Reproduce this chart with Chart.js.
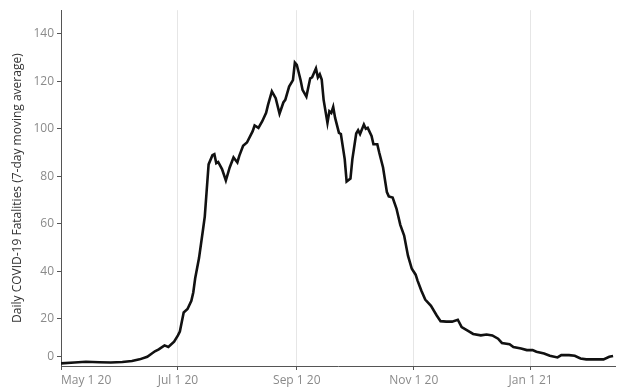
<!DOCTYPE html>
<html>
<head>
<meta charset="utf-8">
<script src="https://cdn.jsdelivr.net/npm/chart.js@4"></script>
<style>
  html, body { margin: 0; padding: 0; background: #fff; }
</style>
</head>
<body>
<canvas id="fatalitiesChart" width="618" height="390"></canvas>
<script>
// daily fatalities, 7-day moving average
const dates = [
  "2020-05-01", "2020-05-08", "2020-05-14", "2020-05-21", "2020-05-27", "2020-06-02",
  "2020-06-07", "2020-06-11", "2020-06-15", "2020-06-19", "2020-06-21", "2020-06-24",
  "2020-06-26", "2020-06-29", "2020-07-01", "2020-07-02", "2020-07-04", "2020-07-06",
  "2020-07-08", "2020-07-09", "2020-07-10", "2020-07-12", "2020-07-14", "2020-07-15",
  "2020-07-16", "2020-07-17", "2020-07-19", "2020-07-20", "2020-07-21", "2020-07-22",
  "2020-07-24", "2020-07-26", "2020-07-28", "2020-07-30", "2020-08-01", "2020-08-02",
  "2020-08-04", "2020-08-06", "2020-08-09", "2020-08-10", "2020-08-12", "2020-08-14",
  "2020-08-16", "2020-08-17", "2020-08-19", "2020-08-21", "2020-08-23", "2020-08-25",
  "2020-08-26", "2020-08-28", "2020-08-30", "2020-08-31", "2020-09-01", "2020-09-03",
  "2020-09-04", "2020-09-06", "2020-09-08", "2020-09-09", "2020-09-11", "2020-09-12",
  "2020-09-13", "2020-09-14", "2020-09-15", "2020-09-17", "2020-09-18", "2020-09-19",
  "2020-09-20", "2020-09-21", "2020-09-23", "2020-09-24", "2020-09-26", "2020-09-27",
  "2020-09-29", "2020-09-30", "2020-10-02", "2020-10-03", "2020-10-04", "2020-10-06",
  "2020-10-07", "2020-10-08", "2020-10-10", "2020-10-11", "2020-10-13", "2020-10-14",
  "2020-10-16", "2020-10-18", "2020-10-19", "2020-10-21", "2020-10-23", "2020-10-25",
  "2020-10-27", "2020-10-29", "2020-10-31", "2020-11-02", "2020-11-03", "2020-11-05",
  "2020-11-07", "2020-11-10", "2020-11-13", "2020-11-15", "2020-11-18", "2020-11-21",
  "2020-11-24", "2020-11-26", "2020-11-30", "2020-12-02", "2020-12-06", "2020-12-09",
  "2020-12-12", "2020-12-15", "2020-12-17", "2020-12-21", "2020-12-23", "2020-12-27",
  "2020-12-30", "2021-01-02", "2021-01-04", "2021-01-08", "2021-01-11", "2021-01-15",
  "2021-01-17", "2021-01-21", "2021-01-24", "2021-01-27", "2021-01-30", "2021-02-04",
  "2021-02-08", "2021-02-11", "2021-02-13",
];
const fatalities = [
  1.1, 1.5, 1.8, 1.6, 1.5, 1.7,
  2.1, 2.8, 3.9, 6.2, 7.0, 8.7,
  8.0, 10.3, 12.9, 14.5, 22.6, 24,
  27.5, 31, 37, 45.5, 57, 63,
  74, 85, 88.9, 89.3, 85.5, 86,
  83, 78.2, 83.7, 87.9, 85.8, 88.6,
  92.8, 94.2, 99, 101.4, 100.4, 103.2,
  106.7, 110.1, 115.8, 112.9, 106.4, 111.1,
  112.2, 117.8, 120.5, 127.9, 127, 120.5,
  116.4, 113.6, 121.3, 121.7, 125.4, 121.7,
  123, 120.8, 112.2, 102.5, 107.4, 106.7,
  109.2, 104.6, 98.3, 97.8, 87.2, 77.8,
  79, 87.2, 98, 99.4, 97.8, 101.8,
  100, 100.4, 97, 93.5, 93.5, 90,
  83.7, 73.3, 71.5, 71, 66.4, 59.5,
  55, 46.5, 41, 38.5, 36, 31.7,
  28, 25.4, 21.3, 18.9, 18.7, 18.7,
  19.5, 16.4, 14.5, 13.5, 12.9, 13.3,
  12.9, 11.5, 9.7, 9.2, 8, 7.4,
  6.7, 6.7, 6, 5.3, 4.3, 3.6,
  4.6, 4.6, 4.3, 3.2, 2.8, 2.8,
  2.8, 3.9, 4.2,
];

const xTickDates = ["2020-05-01", "2020-07-01", "2020-09-01", "2020-11-01", "2021-01-01"];
const xTickLabels = ["May 1 20", "Jul 1 20", "Sep 1 20", "Nov 1 20", "Jan 1 21"];
const yTicks = [0, 20, 40, 60, 80, 100, 120, 140];

const DAY = 86400000;
const start = Date.parse("2020-05-01");
const toDay = (d) => (Date.parse(d) - start) / DAY;
const xMax = 289;
const zeroLift = 3.8; // tableau nudges the "0" tick up off the axis

const font = { family: "'Open Sans', sans-serif", size: 12 };
const axisColor = "#555";

window.onload = () => {
  const ctx = document.getElementById("fatalitiesChart");
  new Chart(ctx, {
    type: "line",
    data: {
      datasets: [
        {
          data: dates.map((d, i) => ({ x: toDay(d), y: fatalities[i] })),
          borderColor: "#111",
          borderWidth: 2.6,
          pointRadius: 0,
          tension: 0,
        },
      ],
    },
    options: {
      responsive: false,
      animation: false,
      devicePixelRatio: 1,
      layout: { padding: { top: 8, right: 1, left: 0, bottom: 0 } },
      plugins: { legend: { display: false }, tooltip: { enabled: false } },
      scales: {
        x: {
          type: "linear",
          min: 0,
          max: xMax,
          afterBuildTicks: (scale) => {
            scale.ticks = xTickDates.map((d) => ({ value: toDay(d) }));
            scale.ticks.push({ value: xMax });
          },
          afterFit: (scale) => {
            scale.height = 24;
          },
          ticks: {
            autoSkip: false,
            maxRotation: 0,
            align: "inner",
            padding: 3,
            color: "#8a8a8a",
            font: font,
            callback: (value, index) => xTickLabels[index] ?? "",
          },
          grid: {
            color: (c) =>
              c.index === 0 || c.index === xTickDates.length ? "rgba(0,0,0,0)" : "#e6e6e6",
            tickColor: (c) => (c.index === xTickDates.length ? "rgba(0,0,0,0)" : axisColor),
            tickLength: 4,
          },
          border: { color: axisColor, width: 1 },
        },
        y: {
          min: 0,
          max: 150,
          afterBuildTicks: (scale) => {
            scale.ticks = yTicks.map((v) => ({ value: v === 0 ? zeroLift : v }));
          },
          afterFit: (scale) => {
            scale.width = 61;
          },
          ticks: {
            padding: 3,
            color: "#8a8a8a",
            font: font,
            callback: (value, index) => String(yTicks[index]),
          },
          grid: {
            drawOnChartArea: false,
            tickColor: axisColor,
            tickLength: 4,
          },
          border: { color: axisColor, width: 1 },
          title: {
            display: true,
            text: "Daily COVID-19 Fatalities (7-day moving average)",
            color: "#333",
            font: font,
            padding: { top: 10, bottom: 0 },
          },
        },
      },
    },
  });
};
</script>
</body>
</html>
